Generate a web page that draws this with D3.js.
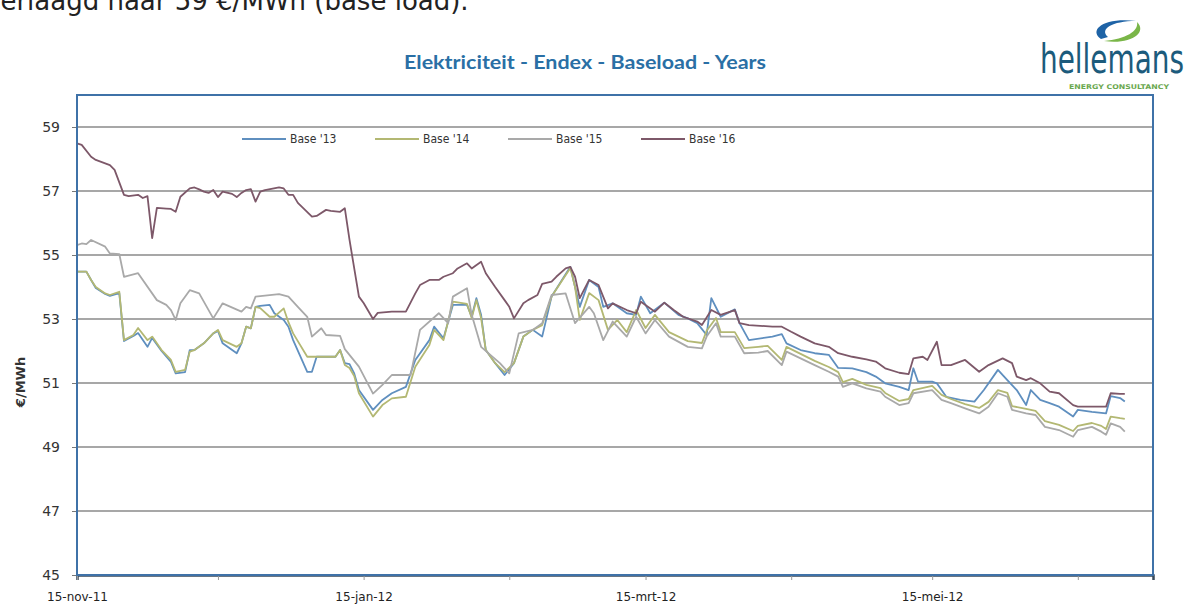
<!doctype html>
<html lang="nl">
<head>
<meta charset="utf-8" />
<title>Elektriciteit - Endex - Baseload - Years</title>
<script src="https://d3js.org/d3.v7.min.js"></script>
<style>
  body { margin: 0; background: #fff; }
  svg { display: block; }
</style>
</head>
<body>
<svg id="chart" width="1186" height="607"></svg>

<script>
// days after 15-nov-11, one list per series
const days16 = [0,1,3,4,7,8,10,11,13,14,15,16,17,19,20,21,22,24,25,26,27,28,29,30,31,33,34,35,36,37,38,39,40,43,44,45,46,47,50,51,53,54,56,57,58,60,61,63,64,67,70,72,73,75,77,78,80,81,83,84,86,87,89,91,92,93,95,96,98,99,101,102,104,105,106,107,109,111,113,114,117,119,120,123,125,127,129,132,133,135,137,140,141,143,148,150,152,154,157,160,162,165,168,170,172,175,177,178,180,181,183,184,186,189,192,194,197,199,200,202,203,205,207,209,212,213,216,219,220,222,223];
const base16 = [58.49,58.44,58.07,57.97,57.81,57.66,56.88,56.84,56.88,56.78,56.84,55.53,56.47,56.45,56.44,56.35,56.82,57.08,57.11,57.05,56.98,56.94,57.03,56.81,56.98,56.91,56.81,56.94,57.03,57.06,56.67,56.98,57.03,57.11,57.08,56.88,56.88,56.63,56.2,56.22,56.41,56.38,56.35,56.46,55.47,53.7,53.5,53.0,53.19,53.23,53.23,53.8,54.06,54.22,54.22,54.32,54.43,54.58,54.74,54.58,54.79,54.43,54.0,53.59,53.38,53.02,53.49,53.59,53.75,54.1,54.17,54.32,54.58,54.63,54.32,53.65,54.22,54.06,53.33,53.49,53.28,53.18,53.54,53.23,53.51,53.28,53.07,52.92,52.81,53.28,53.13,53.28,52.87,52.81,52.76,52.76,52.6,52.45,52.24,52.13,51.93,51.82,51.74,51.67,51.46,51.32,51.28,51.77,51.82,51.72,52.29,51.56,51.56,51.72,51.35,51.56,51.77,51.62,51.2,51.09,51.15,50.99,50.73,50.68,50.31,50.26,50.26,50.26,50.68,50.66,50.66];

const days15 = [0,1,2,3,6,7,9,10,13,17,19,20,21,22,24,26,29,31,35,36,37,38,43,45,47,49,50,52,53,56,57,60,63,65,67,71,73,77,79,80,83,84,86,90,92,94,97,99,101,104,106,109,110,112,114,117,119,121,123,126,130,133,134,136,137,140,142,145,147,150,151,154,157,160,162,163,165,168,171,172,175,177,178,182,184,186,189,192,194,196,198,199,202,204,206,209,212,213,216,218,219,220,222,223];
const base15 = [55.31,55.36,55.34,55.47,55.26,55.05,55.03,54.32,54.43,53.59,53.44,53.28,52.97,53.49,53.9,53.8,53.02,53.49,53.23,53.38,53.33,53.7,53.78,53.7,53.38,53.07,52.45,52.71,52.5,52.47,52.06,51.51,50.67,50.94,51.25,51.25,52.66,53.18,52.87,53.7,53.96,53.13,52.13,51.62,51.3,52.55,52.66,52.87,53.75,53.8,52.87,53.38,53.18,52.34,52.92,52.45,53.07,52.55,52.97,52.45,52.13,52.08,52.45,52.87,52.45,52.45,51.93,51.95,52.0,51.56,51.98,51.77,51.56,51.35,51.2,50.88,50.99,50.83,50.73,50.57,50.31,50.37,50.68,50.78,50.47,50.37,50.21,50.05,50.26,50.68,50.57,50.16,50.05,50.0,49.63,49.53,49.32,49.53,49.63,49.48,49.38,49.74,49.63,49.48];

const days14 = [0,2,3,4,6,7,9,10,12,13,15,16,18,20,21,23,24,25,27,29,30,31,34,35,36,37,38,39,41,42,44,45,46,49,50,51,55,56,57,58,59,60,63,65,67,70,72,75,76,78,80,83,84,85,86,87,89,91,93,95,97,99,101,105,106,107,109,111,113,115,117,119,121,123,126,130,133,134,136,137,140,142,145,147,150,151,154,157,160,162,163,165,168,171,172,175,177,178,182,184,186,189,192,194,196,198,199,202,204,206,209,212,213,216,218,219,220,222,223];
const base14 = [54.48,54.48,54.22,54.0,53.8,53.75,53.85,52.34,52.5,52.72,52.34,52.45,52.03,51.72,51.35,51.41,51.98,52.03,52.24,52.55,52.66,52.34,52.13,52.24,52.76,52.71,53.38,53.34,53.07,53.07,53.33,52.9,52.55,51.82,51.82,51.82,51.82,52.03,51.56,51.47,51.22,50.68,49.95,50.31,50.52,50.57,51.51,52.19,52.66,52.34,53.54,53.47,53.03,53.59,53.03,52.03,51.62,51.34,51.62,52.45,52.66,52.81,53.7,54.59,54.0,52.97,53.81,53.59,52.66,52.97,52.59,53.28,52.72,53.13,52.59,52.31,52.25,52.63,53.03,52.59,52.59,52.09,52.13,52.16,51.72,52.13,51.91,51.69,51.5,51.34,51.03,51.13,50.94,50.84,50.69,50.44,50.5,50.78,50.91,50.63,50.5,50.34,50.22,50.41,50.78,50.69,50.28,50.19,50.13,49.81,49.69,49.5,49.66,49.75,49.66,49.56,49.95,49.9,49.88];

const days13 = [0,2,3,4,6,7,9,10,12,13,15,16,18,20,21,23,24,25,27,29,30,31,34,35,36,37,38,39,41,42,44,45,46,49,50,51,55,56,57,58,59,60,63,65,67,70,72,75,76,78,80,83,84,85,86,87,89,91,93,95,97,99,101,105,106,107,109,111,112,114,117,119,120,122,125,128,130,132,134,135,137,140,141,143,148,150,151,154,157,160,162,165,168,170,172,175,177,178,179,182,183,185,188,191,193,196,198,200,202,203,205,207,209,212,213,216,219,220,222,223];
const base13 = [54.48,54.48,54.22,53.97,53.78,53.72,53.81,52.31,52.47,52.56,52.13,52.41,52.0,51.66,51.3,51.34,52.03,52.03,52.24,52.55,52.63,52.24,51.93,52.24,52.76,52.71,53.38,53.41,53.44,53.18,52.97,52.76,52.34,51.35,51.35,51.82,51.82,52.03,51.62,51.59,51.3,50.78,50.16,50.47,50.68,50.88,51.72,52.34,52.76,52.4,53.44,53.44,53.07,53.65,53.13,52.03,51.62,51.25,51.62,52.45,52.66,52.45,53.7,54.63,54.0,53.38,54.22,54.0,53.38,53.49,53.18,53.13,53.7,53.18,53.51,53.13,53.02,52.87,52.5,53.65,53.07,53.3,52.87,52.34,52.45,52.53,52.24,52.03,51.93,51.88,51.47,51.46,51.34,51.2,50.99,50.88,50.78,51.46,51.04,51.04,50.99,50.57,50.47,50.42,50.78,51.41,51.09,50.78,50.31,50.78,50.47,50.37,50.26,49.95,50.16,50.1,50.05,50.59,50.53,50.42];

const seriesNames  = ["Base '13", "Base '14", "Base '15", "Base '16"];
const seriesColors = ["#5f8fbf", "#b3b873", "#a9a9a9", "#7d5869"];
const yTicks = [45, 47, 49, 51, 53, 55, 57, 59];
const xTickLabels = ["15-nov-11", "", "15-jan-12", "", "15-mrt-12", "", "15-mei-12", ""];

const start = new Date(2011, 10, 15);

const series = [
  { name: seriesNames[0], color: seriesColors[0], days: days13, values: base13 },
  { name: seriesNames[1], color: seriesColors[1], days: days14, values: base14 },
  { name: seriesNames[2], color: seriesColors[2], days: days15, values: base15 },
  { name: seriesNames[3], color: seriesColors[3], days: days16, values: base16 }
];
series.forEach(s => {
  s.points = s.days.map((d, i) => ({ date: d3.timeDay.offset(start, d), value: s.values[i] }));
});

const svg = d3.select("#chart");

const plotLeft = 77, plotRight = 1153, plotTop = 95, plotBottom = 575;

const x = d3.scaleTime()
  .domain([start, new Date(2012, 6, 1)])
  .range([plotLeft, plotRight]);

const y = d3.scaleLinear()
  .domain([45, 60])
  .range([plotBottom, plotTop]);

// text from the page above the chart, its top half falls outside the picture
svg.append("text")
  .attr("x", -15)
  .attr("y", 10)
  .attr("font-family", "DejaVu Sans, Verdana, sans-serif")
  .attr("font-size", 26)
  .attr("fill", "#222")
  .text("verlaagd naar 59 €/MWh (base load).");

// title
svg.append("text")
  .attr("x", 585)
  .attr("y", 69)
  .attr("text-anchor", "middle")
  .attr("textLength", 362)
  .attr("lengthAdjust", "spacingAndGlyphs")
  .attr("font-family", "Lato, 'Open Sans', sans-serif")
  .attr("font-weight", "bold")
  .attr("font-size", 18)
  .attr("fill", "#2a6fa5")
  .text("Elektriciteit - Endex - Baseload - Years");

// logo
const logo = svg.append("g");
logo.append("path")
  .attr("d", "M1101,39 C1088,30 1104,17 1136,21 C1112,21 1099,29 1108,37 Z")
  .attr("fill", "#1e63a6");
logo.append("path")
  .attr("d", "M1104,41 C1130,45 1148,33 1137,22 C1139,31 1126,39 1104,41 Z")
  .attr("fill", "#7ab648");
logo.append("text")
  .attr("transform", "translate(1040,73) scale(1,1.3)")
  .attr("font-family", "DejaVu Sans Condensed, DejaVu Sans, sans-serif")
  .attr("font-size", 31)
  .attr("fill", "#1c5b7c")
  .text("hellemans");
logo.append("text")
  .attr("x", 1069)
  .attr("y", 89)
  .attr("textLength", 100)
  .attr("lengthAdjust", "spacingAndGlyphs")
  .attr("font-family", "DejaVu Sans Condensed, DejaVu Sans, sans-serif")
  .attr("font-weight", "bold")
  .attr("font-size", 6.5)
  .attr("fill", "#6aa84f")
  .text("ENERGY CONSULTANCY");

// gridlines
svg.append("g")
  .selectAll("line")
  .data(yTicks)
  .join("line")
    .attr("x1", plotLeft)
    .attr("x2", plotRight)
    .attr("y1", d => y(d))
    .attr("y2", d => y(d))
    .attr("stroke", "#8a8a8a")
    .attr("stroke-width", 1.7);

// axes
const yAxis = svg.append("g")
  .attr("transform", `translate(${plotLeft},0)`)
  .call(d3.axisLeft(y).tickValues(yTicks).tickSize(5).tickPadding(12));
yAxis.select(".domain").remove();
yAxis.selectAll("line").attr("stroke", "#777");
yAxis.selectAll("text")
  .attr("font-family", "DejaVu Sans, Verdana, sans-serif")
  .attr("font-size", 14)
  .attr("fill", "#333");

const xTicks = d3.range(8).map(i => new Date(2011, 10 + i, 15));
const xAxis = svg.append("g")
  .attr("transform", `translate(0,${plotBottom})`)
  .call(d3.axisBottom(x).tickValues(xTicks).tickSize(5).tickPadding(12)
    .tickFormat((d, i) => xTickLabels[i]));
xAxis.select(".domain").attr("stroke", "#3a4a5a").attr("stroke-width", 2.5);
xAxis.selectAll("line").attr("stroke", "#999");
xAxis.selectAll("text")
  .attr("font-family", "DejaVu Sans, Verdana, sans-serif")
  .attr("font-size", 12)
  .attr("fill", "#222");

svg.append("text")
  .attr("transform", "translate(25,382) rotate(-90)")
  .attr("text-anchor", "middle")
  .attr("font-family", "DejaVu Sans, Verdana, sans-serif")
  .attr("font-size", 13)
  .attr("font-weight", "bold")
  .attr("fill", "#333")
  .text("€/MWh");

// series lines
const line = d3.line()
  .defined(d => d.value != null)
  .x(d => x(d.date))
  .y(d => y(d.value));

svg.append("g")
  .selectAll("path")
  .data(series)
  .join("path")
    .attr("d", d => line(d.points))
    .attr("fill", "none")
    .attr("stroke", d => d.color)
    .attr("stroke-width", 1.8)
    .attr("stroke-linejoin", "round");

// legend
const legend = svg.append("g")
  .selectAll("g")
  .data(series)
  .join("g")
    .attr("transform", (d, i) => `translate(${242 + i * 133},139)`);
legend.append("line")
  .attr("x1", 0)
  .attr("x2", 44)
  .attr("stroke", d => d.color)
  .attr("stroke-width", 1.8);
legend.append("text")
  .attr("x", 48)
  .attr("dy", "0.35em")
  .attr("font-family", "DejaVu Sans Condensed, DejaVu Sans, sans-serif")
  .attr("font-size", 12)
  .attr("fill", "#333")
  .text(d => d.name);

// plot frame
svg.append("rect")
  .attr("x", plotLeft)
  .attr("y", plotTop)
  .attr("width", plotRight - plotLeft)
  .attr("height", plotBottom - plotTop)
  .attr("fill", "none")
  .attr("stroke", "#3f72a8")
  .attr("stroke-width", 2);
</script>
</body>
</html>
